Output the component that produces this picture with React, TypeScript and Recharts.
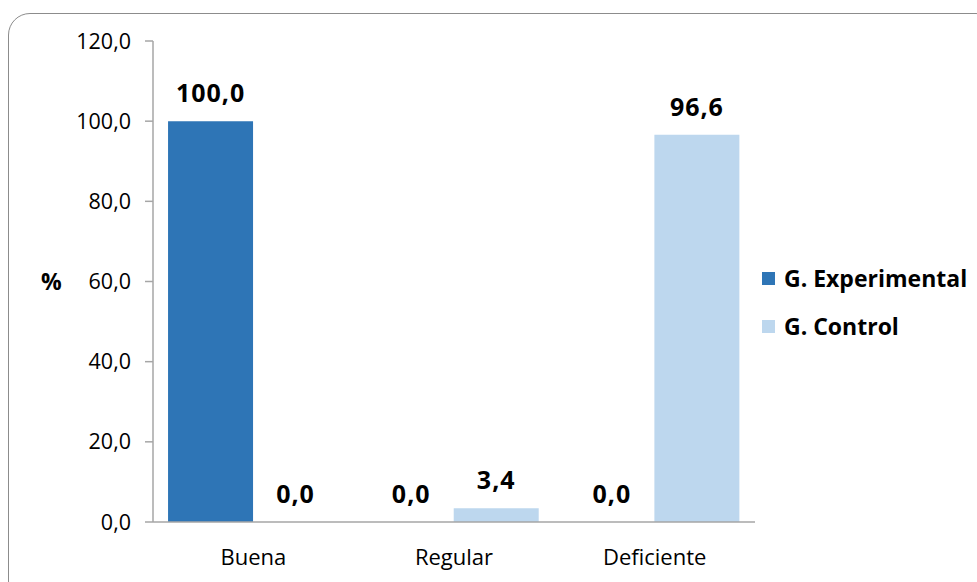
import { BarChart, Bar, XAxis, YAxis, LabelList } from 'recharts';

const categories = ['Buena', 'Regular', 'Deficiente'];
const experimental = [100.0, 0.0, 0.0];
const control = [0.0, 3.4, 96.6];
const yTicks = [0, 20, 40, 60, 80, 100, 120];

const data = categories.map((name, i) => ({
  name,
  experimental: experimental[i],
  control: control[i],
}));

const FONT = '"Open Sans", "Noto Sans", sans-serif';
const fmt = (v: number) => Number(v).toFixed(1).replace('.', ',');

const legendItems = [
  { label: 'G. Experimental', color: '#2E75B6' },
  { label: 'G. Control', color: '#BDD7EE' },
];

const labelStyle = { fill: '#000', fontSize: 25, fontWeight: 700, fontFamily: FONT, letterSpacing: 1 };

export default function App() {
  return (
    <div style={{ position: 'absolute', left: 0, top: 0, width: 977, height: 582, overflow: 'hidden', background: '#fff' }}>
      <div
        style={{
          position: 'absolute',
          left: 8,
          top: 13,
          width: 990,
          height: 590,
          border: '1.5px solid #8c8c8c',
          borderRadius: 22,
          boxSizing: 'border-box',
        }}
      />
      <div style={{ position: 'absolute', left: 0, top: 0 }}>
        <BarChart
          width={977}
          height={582}
          data={data}
          margin={{ top: 41, right: 222, left: 30, bottom: 30 }}
          barCategoryGap="7.5%"
          barGap={0}
        >
          <XAxis
            dataKey="name"
            axisLine={{ stroke: '#a6a6a6', strokeWidth: 1.5 }}
            tickLine={false}
            tickMargin={21}
            tick={{ fill: '#000', fontSize: 22, fontFamily: FONT }}
          />
          <YAxis
            width={123}
            domain={[0, 120]}
            ticks={yTicks}
            interval={0}
            tickFormatter={fmt}
            axisLine={{ stroke: '#a6a6a6', strokeWidth: 1.5 }}
            tickLine={{ stroke: '#a6a6a6', strokeWidth: 1.5 }}
            tickSize={8}
            tickMargin={14}
            tick={{ fill: '#000', fontSize: 21.5, fontFamily: FONT }}
            label={{
              value: '%',
              position: 'insideLeft',
              offset: 11,
              style: { fill: '#000', fontSize: 23, fontWeight: 700, fontFamily: FONT },
            }}
          />
          <Bar dataKey="experimental" fill="#2E75B6" minPointSize={0.01} isAnimationActive={false}>
            <LabelList dataKey="experimental" position="top" offset={19} formatter={fmt} style={labelStyle} />
          </Bar>
          <Bar dataKey="control" fill="#BDD7EE" minPointSize={0.01} isAnimationActive={false}>
            <LabelList dataKey="control" position="top" offset={19} formatter={fmt} style={labelStyle} />
          </Bar>
        </BarChart>
      </div>
      <div style={{ position: 'absolute', left: 762, top: 254, fontFamily: FONT }}>
        {legendItems.map((it) => (
          <div key={it.label} style={{ display: 'flex', alignItems: 'center', height: 48 }}>
            <div style={{ width: 13, height: 13, background: it.color, marginRight: 9 }} />
            <span style={{ fontSize: 23, fontWeight: 700, color: '#000' }}>{it.label}</span>
          </div>
        ))}
      </div>
    </div>
  );
}
